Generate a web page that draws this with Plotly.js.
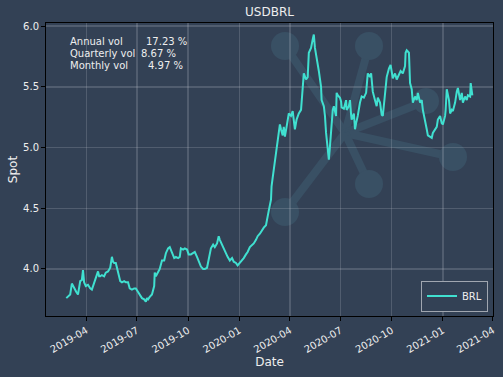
<!DOCTYPE html>
<html>
<head>
<meta charset="utf-8">
<script src="https://cdn.plot.ly/plotly-3.0.1.min.js"></script>
<style>html,body{margin:0;padding:0;background:#334155;}#chart{width:503px;height:377px;}</style>
</head>
<body>
<div id="chart"></div>
<script>
// ---- data ----
const dates = [
"2019-02-24","2019-02-27","2019-03-03","2019-03-06","2019-03-10","2019-03-14","2019-03-17","2019-03-21","2019-03-24","2019-03-26",
"2019-03-28","2019-03-31","2019-04-04","2019-04-08","2019-04-11","2019-04-15","2019-04-18","2019-04-22","2019-04-24","2019-04-26",
"2019-04-29","2019-05-03","2019-05-06","2019-05-10","2019-05-14","2019-05-17","2019-05-19","2019-05-21","2019-05-24","2019-05-26",
"2019-05-28","2019-06-01","2019-06-04","2019-06-08","2019-06-11","2019-06-15","2019-06-18","2019-06-22","2019-06-26","2019-06-29",
"2019-07-03","2019-07-06","2019-07-10","2019-07-14","2019-07-17","2019-07-19","2019-07-21","2019-07-24","2019-07-28","2019-08-01",
"2019-08-02","2019-08-04","2019-08-08","2019-08-11","2019-08-15","2019-08-19","2019-08-22","2019-08-26","2019-08-29","2019-09-02",
"2019-09-06","2019-09-09","2019-09-13","2019-09-16","2019-09-18","2019-09-22","2019-09-25","2019-09-29","2019-10-02","2019-10-06",
"2019-10-10","2019-10-13","2019-10-17","2019-10-20","2019-10-24","2019-10-28","2019-10-31","2019-11-04","2019-11-07","2019-11-11",
"2019-11-15","2019-11-18","2019-11-22","2019-11-25","2019-11-27","2019-12-01","2019-12-04","2019-12-08","2019-12-11","2019-12-15",
"2019-12-19","2019-12-22","2019-12-26","2019-12-29","2020-01-02","2020-01-06","2020-01-09","2020-01-13","2020-01-16","2020-01-20",
"2020-01-24","2020-01-27","2020-01-31","2020-02-03","2020-02-07","2020-02-11","2020-02-14","2020-02-18","2020-02-20","2020-02-23",
"2020-02-27","2020-02-28","2020-03-01","2020-03-03","2020-03-05","2020-03-07","2020-03-08","2020-03-10","2020-03-12","2020-03-14",
"2020-03-16","2020-03-19","2020-03-21","2020-03-23","2020-03-26","2020-03-30","2020-04-03","2020-04-06","2020-04-10","2020-04-13",
"2020-04-17","2020-04-21","2020-04-24","2020-04-26","2020-04-30","2020-05-03","2020-05-05","2020-05-09","2020-05-12","2020-05-14",
"2020-05-16","2020-05-19","2020-05-23","2020-05-27","2020-05-28","2020-06-01","2020-06-03","2020-06-05","2020-06-06","2020-06-08",
"2020-06-10","2020-06-12","2020-06-14","2020-06-15","2020-06-17","2020-06-19","2020-06-21","2020-06-23","2020-06-24","2020-06-26",
"2020-06-30","2020-07-02","2020-07-03","2020-07-07","2020-07-11","2020-07-12","2020-07-16","2020-07-18","2020-07-20","2020-07-21",
"2020-07-25","2020-07-27","2020-07-29","2020-08-01","2020-08-05","2020-08-08","2020-08-12","2020-08-16","2020-08-19","2020-08-23",
"2020-08-25","2020-08-26","2020-08-28","2020-09-01","2020-09-04","2020-09-06","2020-09-10","2020-09-13","2020-09-15","2020-09-17",
"2020-09-20","2020-09-22","2020-09-26","2020-09-29","2020-10-03","2020-10-07","2020-10-10","2020-10-14","2020-10-17","2020-10-21",
"2020-10-25","2020-10-26","2020-10-28","2020-10-30","2020-11-01","2020-11-03","2020-11-06","2020-11-08","2020-11-12","2020-11-15",
"2020-11-17","2020-11-21","2020-11-24","2020-11-26","2020-11-30","2020-12-03","2020-12-05","2020-12-09","2020-12-12","2020-12-14",
"2020-12-18","2020-12-21","2020-12-23","2020-12-27","2020-12-30","2021-01-01","2021-01-05","2021-01-06","2021-01-08","2021-01-12",
"2021-01-14","2021-01-17","2021-01-19","2021-01-23","2021-01-26","2021-01-28","2021-02-01","2021-02-04","2021-02-06","2021-02-10",
"2021-02-13","2021-02-15","2021-02-19","2021-02-20","2021-02-23"
];
const brl = [
3.76,3.77,3.79,3.88,3.84,3.81,3.79,3.90,3.91,3.99,
3.89,3.86,3.87,3.84,3.83,3.89,3.94,3.98,3.94,3.94,
3.95,3.94,3.97,3.98,4.01,4.10,4.06,4.05,4.05,4.01,
3.97,3.90,3.89,3.90,3.89,3.89,3.84,3.83,3.84,3.84,
3.81,3.79,3.76,3.75,3.73,3.76,3.75,3.77,3.79,3.86,
3.97,3.94,3.98,4.00,4.07,4.07,4.13,4.17,4.18,4.14,
4.09,4.10,4.09,4.10,4.17,4.16,4.17,4.16,4.12,4.12,
4.13,4.14,4.10,4.06,4.02,4.00,4.00,4.01,4.09,4.17,
4.20,4.18,4.21,4.27,4.24,4.20,4.16,4.13,4.10,4.07,
4.09,4.06,4.05,4.03,4.05,4.07,4.09,4.12,4.14,4.18,
4.20,4.21,4.24,4.27,4.29,4.32,4.34,4.36,4.40,4.48,
4.57,4.68,4.75,4.82,4.87,4.93,4.98,5.04,5.12,5.19,
5.15,5.10,5.17,5.09,5.17,5.28,5.26,5.30,5.15,5.23,
5.28,5.31,5.49,5.61,5.56,5.58,5.78,5.82,5.89,5.93,
5.82,5.72,5.63,5.50,5.39,5.34,5.26,5.12,5.06,4.98,
4.90,5.01,5.15,5.23,5.31,5.34,5.28,5.26,5.45,5.43,
5.41,5.38,5.33,5.32,5.39,5.31,5.34,5.39,5.27,5.23,
5.28,5.15,5.20,5.26,5.37,5.42,5.41,5.45,5.61,5.58,
5.61,5.52,5.46,5.39,5.34,5.41,5.37,5.27,5.26,5.35,
5.50,5.58,5.65,5.68,5.57,5.61,5.56,5.61,5.63,5.61,
5.67,5.78,5.80,5.79,5.78,5.53,5.48,5.37,5.42,5.39,
5.45,5.37,5.39,5.31,5.23,5.15,5.10,5.09,5.08,5.12,
5.15,5.17,5.23,5.26,5.20,5.19,5.26,5.31,5.48,5.39,
5.28,5.31,5.30,5.37,5.46,5.49,5.39,5.45,5.37,5.42,
5.39,5.43,5.42,5.53,5.43
];
const seriesName = "BRL";
const chartTitle = "USDBRL";
const volLabels = ["Annual vol", "Quarterly vol", "Monthly vol"];
const volValues = ["17.23 %", "8.67 %", "4.97 %"];
const xTicks = ["2019-04-01","2019-07-01","2019-10-01","2020-01-01","2020-04-01","2020-07-01","2020-10-01","2021-01-01","2021-04-01"];
const xTickText = ["2019-04","2019-07","2019-10","2020-01","2020-04","2020-07","2020-10","2021-01","2021-04"];
const yTicks = [4.0, 4.5, 5.0, 5.5, 6.0];

// ---- layout geometry ----
const W = 503, H = 377;
const M = {l: 46, r: 10, t: 23, b: 61};
const pw = W - M.l - M.r, ph = H - M.t - M.b;
const px = x => (x - M.l) / pw;
const py = y => (H - M.b - y) / ph;
const BG = "#334155";
const FONT = "DejaVu Sans, sans-serif";
const TXT = "#eeeeee";

// decorative watermark (network logo)
const wmColor = "rgb(57,80,100)";
const hub = [345, 133];
const nodes = [[285,46,14],[369,46,14],[426,101,13],[453,157,14],[369,184,14],[285,212,14]];
const shapes = [];
nodes.forEach(n => shapes.push({type:"line", xref:"paper", yref:"paper", layer:"below",
  x0:px(hub[0]), y0:py(hub[1]), x1:px(n[0]), y1:py(n[1]), line:{color:wmColor, width:8}}));
nodes.forEach(n => shapes.push({type:"circle", xref:"paper", yref:"paper", layer:"below",
  x0:px(n[0]-n[2]), x1:px(n[0]+n[2]), y0:py(n[1]+n[2]), y1:py(n[1]-n[2]),
  fillcolor:wmColor, line:{width:0}}));

const annotations = [];
const rowsY = [42, 53.5, 65];
const valX = [144, 139, 146];
volLabels.forEach((t, i) => {
  annotations.push({text:t, xref:"paper", yref:"paper", x:px(68), y:py(rowsY[i]), xanchor:"left", yanchor:"middle",
    showarrow:false, font:{family:FONT, size:10, color:TXT}});
  annotations.push({text:volValues[i], xref:"paper", yref:"paper", x:px(valX[i]), y:py(rowsY[i]), xanchor:"left", yanchor:"middle",
    showarrow:false, font:{family:FONT, size:10, color:TXT}});
});

const trace = {
  x: dates, y: brl, type: "scatter", mode: "lines", name: seriesName,
  line: {color: "#40E0D0", width: 2}
};

const layout = {
  width: W, height: H,
  margin: {l: M.l, r: M.r, t: M.t, b: M.b, pad: 0},
  paper_bgcolor: BG, plot_bgcolor: BG,
  font: {family: FONT, color: TXT, size: 10},
  title: {text: chartTitle, x: px(269.5), xref: "paper", y: 1 - 12/H, yanchor: "middle",
          font: {family: FONT, size: 12, color: TXT}},
  showlegend: true,
  legend: {x: px(488), xanchor: "right", y: py(311.5), yanchor: "bottom",
           bgcolor: BG, bordercolor: "#a0a6b0", borderwidth: 1,
           font: {family: FONT, size: 10, color: TXT}, itemwidth: 30},
  xaxis: {
    type: "date", range: ["2019-01-18 12:00", "2021-04-01 03:00"],
    tickvals: xTicks, ticktext: xTickText, tickangle: -30,
    showgrid: true, gridcolor: "rgba(190,195,205,0.22)", gridwidth: 1.5,
    showline: true, linecolor: "#000000", linewidth: 1, mirror: true,
    ticks: "outside", ticklen: 4, tickcolor: "#000000", tickwidth: 1,
    tickfont: {family: FONT, size: 10, color: TXT}, zeroline: false,
    title: {text: "Date", font: {family: FONT, size: 12, color: TXT}, standoff: 2},
    automargin: false
  },
  yaxis: {
    range: [3.613, 6.025], tickvals: yTicks, tickformat: ".1f",
    showgrid: true, gridcolor: "rgba(190,195,205,0.22)", gridwidth: 1.5,
    showline: true, linecolor: "#000000", linewidth: 1, mirror: true,
    ticks: "outside", ticklen: 4, tickcolor: "#000000", tickwidth: 1,
    tickfont: {family: FONT, size: 10, color: TXT}, zeroline: false,
    title: {text: "Spot", font: {family: FONT, size: 12, color: TXT}, standoff: 2},
    automargin: false
  },
  shapes: shapes,
  annotations: annotations,
  hovermode: false
};

Plotly.newPlot("chart", [trace], layout, {displayModeBar: false, staticPlot: true});
</script>
</body>
</html>
